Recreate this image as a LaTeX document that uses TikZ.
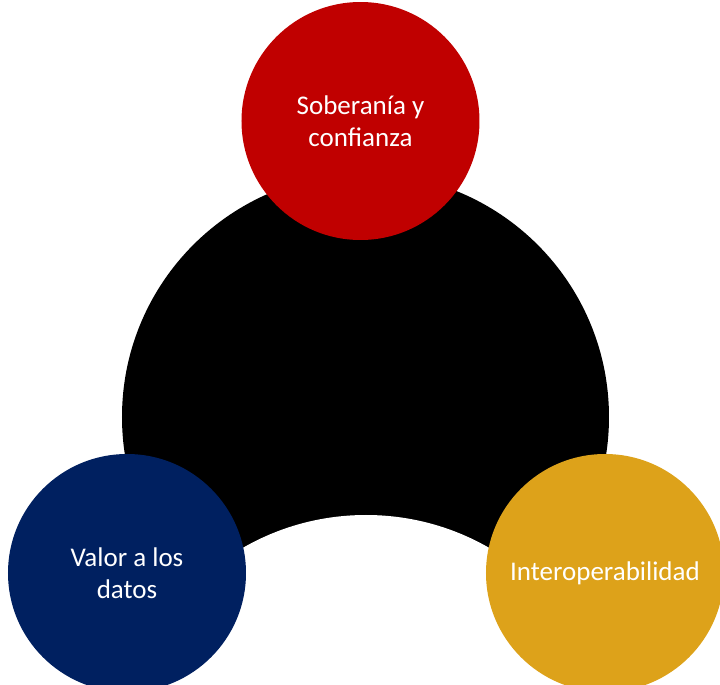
\documentclass[tikz,border=0pt]{standalone}
\usepackage{fontspec}
\setmainfont{Carlito}
\definecolor{sovRed}{HTML}{C00000}
\definecolor{valBlue}{HTML}{002060}
\definecolor{intGold}{HTML}{DDA21A}

\begin{document}
\begin{tikzpicture}
    [ x=0.5pt, y=-0.5pt,
      ring/.style={black, draw=none, fill=black},
      cutout/.style={draw=none, fill=white},
      bubble/.style={circle, draw=none, minimum size=119pt, inner sep=0pt,
                     text=white, align=center, font=\fontsize{13.5}{16}\selectfont}]

  \useasboundingbox (0,0) rectangle (720,685);

%%%%%%%%%%%%%%%%%%%%%%%%%%%%%%%%%%%%%%%%%%%%%%%%%%%%%%%%%%%%%%%%%%%%%%%%%%%%%%%%%%%%%%%%%%%%%%%%%%%%%%%%%%
%black centre with cut bottom
	  \fill[ring]   (365.5,417) circle (121.75pt);
	  \fill[cutout] (366,762) circle (123.5pt);

%%%%%%%%%%%%%%%%%%%%%%%%%%%%%%%%%%%%%%%%%%%%%%%%%%%%%%%%%%%%%%%%%%%%%%%%%%%%%%%%%%%%%%%%%%%%%%%%%%%%%%%%%%
%three bubbles
	  \node[bubble, fill=sovRed]  (soberania) at (360.5,121) {Soberanía y\\confianza};
	  \node[bubble, fill=valBlue] (valor)     at (127,573)   {Valor a los\\datos};
	  \node[bubble, fill=intGold] (interop)   at (605,573)   {Interoperabilidad};

\end{tikzpicture}
\end{document}
